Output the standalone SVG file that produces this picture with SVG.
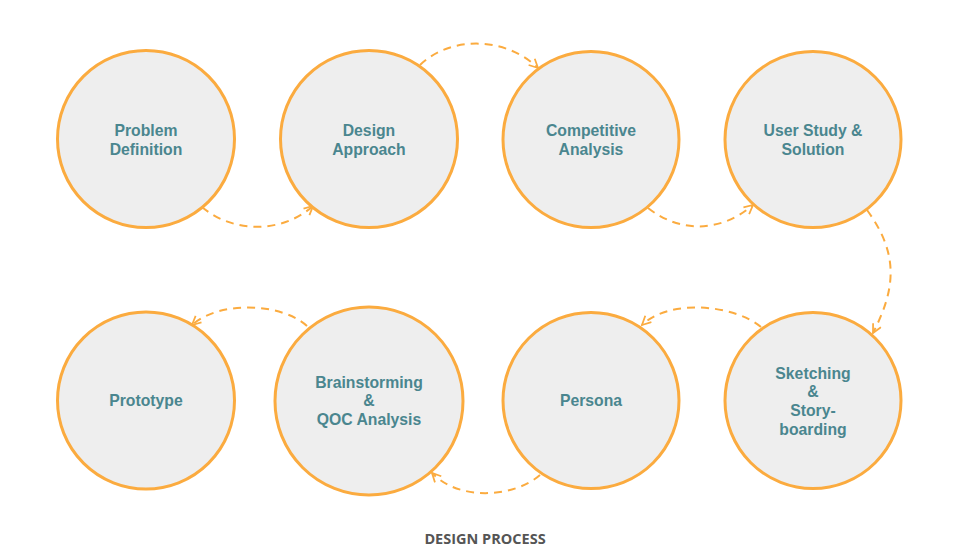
<svg xmlns="http://www.w3.org/2000/svg" width="960" height="556" viewBox="0 0 960 556">
  <defs>
    <marker id="arrow" viewBox="0 0 10 10" refX="9" refY="5" markerWidth="11" markerHeight="11" markerUnits="userSpaceOnUse" orient="auto">
      <path d="M1,1 L9,5 L1,9" fill="none" stroke="#FBAB3F" stroke-width="1.6" stroke-dasharray="none"/>
    </marker>
  </defs>
  <style>
    .node circle { fill: #EEEEEE; stroke: #FBAB3F; stroke-width: 3; }
    .node text { font-family: "Liberation Sans", Arial, sans-serif; font-weight: bold; font-size: 15.75px; fill: #4A868F; text-anchor: middle; }
    .edge { fill: none; stroke: #FBAB3F; stroke-width: 2; stroke-dasharray: 8 6; marker-end: url(#arrow); }
    .title { font-family: "Open Sans", "Liberation Sans", sans-serif; font-weight: bold; font-size: 14.5px; fill: #555555; text-anchor: middle; }
  </style>
  <rect width="960" height="556" fill="#FFFFFF"/>

  <g id="connectors">
    <path class="edge" d="M202,207 C232,233 282,234 313,206"/>
    <path class="edge" d="M420,65 C450,36 505,36 538,68"/>
    <path class="edge" d="M648,208 C680,233 720,233 753,205"/>
    <path class="edge" d="M867,210 C900,255 895,290 873,333"/>
    <path class="edge" d="M761,327 C735,305 670,298 642,325"/>
    <path class="edge" d="M540,475 C515,497 460,502 432,473"/>
    <path class="edge" d="M307,326 C282,303 220,300 192,325"/>
  </g>

  <g id="problem-definition" class="node">
    <circle cx="146" cy="139" r="88.5"/>
    <text x="146" y="136">Problem</text>
    <text x="146" y="154.5">Definition</text>
  </g>
  <g id="design-approach" class="node">
    <circle cx="369" cy="139" r="88.5"/>
    <text x="369" y="136">Design</text>
    <text x="369" y="154.5">Approach</text>
  </g>
  <g id="competitive-analysis" class="node">
    <circle cx="591" cy="139.5" r="88"/>
    <text x="591" y="136">Competitive</text>
    <text x="591" y="154.5">Analysis</text>
  </g>
  <g id="user-study" class="node">
    <circle cx="813" cy="139.5" r="88"/>
    <text x="813" y="136">User Study &amp;</text>
    <text x="813" y="154.5">Solution</text>
  </g>
  <g id="prototype" class="node">
    <circle cx="146" cy="400.5" r="88.5"/>
    <text x="146" y="406">Prototype</text>
  </g>
  <g id="brainstorming" class="node">
    <circle cx="369" cy="401" r="94"/>
    <text x="369" y="387.5">Brainstorming</text>
    <text x="369" y="406">&amp;</text>
    <text x="369" y="425">QOC Analysis</text>
  </g>
  <g id="persona" class="node">
    <circle cx="591" cy="400.5" r="88"/>
    <text x="591" y="406">Persona</text>
  </g>
  <g id="sketching" class="node">
    <circle cx="813" cy="400.5" r="88"/>
    <text x="813" y="378.5">Sketching</text>
    <text x="813" y="397">&amp;</text>
    <text x="813" y="416">Story-</text>
    <text x="813" y="434.5">boarding</text>
  </g>

  <text class="title" x="485" y="544">DESIGN PROCESS</text>
</svg>
